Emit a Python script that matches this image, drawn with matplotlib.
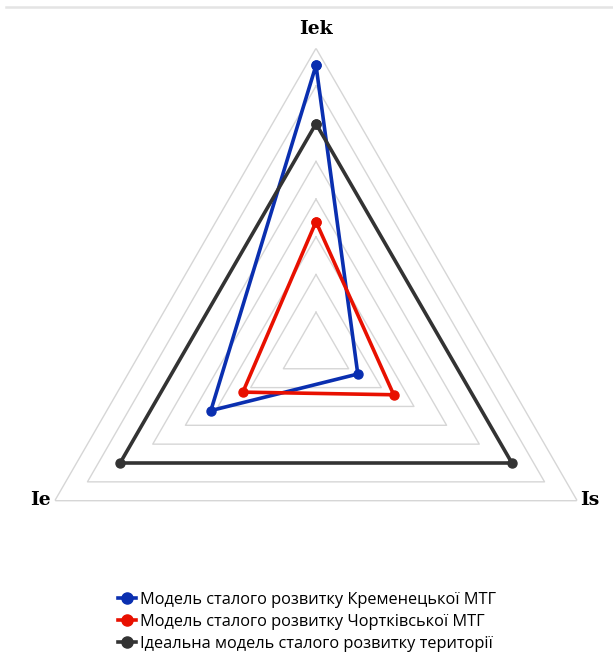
import numpy as np
import matplotlib
matplotlib.use("Agg")
import matplotlib.pyplot as plt
from matplotlib.lines import Line2D

# --- Indicator values (integral indices) ---
axes_labels = ["Iek", "Is", "Ie"]
kremenets = [0.755, 0.128, 0.322]
chortkiv = [0.340, 0.238, 0.224]
ideal = [0.60, 0.60, 0.60]

series_names = [
    "Модель сталого розвитку Кременецької МТГ",
    "Модель сталого розвитку Чортківської МТГ",
    "Ідеальна модель сталого розвитку території",
]
series_colors = ["#0a2fb0", "#e81000", "#333333"]
grid_levels = [0.1, 0.2, 0.3, 0.4, 0.5, 0.6, 0.7, 0.8]

W, H = 613, 653
fig = plt.figure(figsize=(W / 100, H / 100), dpi=100)

# polar axes centred on the triangle centre
cx, cy, R = 316, 349.9, 301.6
ax = fig.add_axes([(cx - R) / W, (H - cy - R) / H, 2 * R / W, 2 * R / H],
                  projection="polar")
ax.set_theta_offset(np.pi / 2)
ax.set_theta_direction(-1)
ax.set_ylim(0, 0.8)
ax.grid(False)
ax.spines["polar"].set_visible(False)
ax.set_xticks([])
ax.set_yticks([])
ax.patch.set_alpha(0)

theta = np.linspace(0, 2 * np.pi, len(axes_labels), endpoint=False)
theta_closed = np.append(theta, theta[0])

# triangular grid
for lvl in grid_levels:
    ax.plot(theta_closed, [lvl] * (len(theta) + 1), color="#d6d6d6", lw=1.0, zorder=1)

for vals, col in zip([kremenets, chortkiv, ideal], series_colors):
    v = np.append(vals, vals[0])
    ax.plot(theta_closed, v, color=col, lw=2.6, marker="o", ms=6.5,
            solid_joinstyle="round", zorder=3)

# axis titles
lab_font = dict(family="DejaVu Serif", weight="bold", fontsize=13.5)
fig.text(316 / W, 1 - 29 / H, axes_labels[0], ha="center", va="center", **lab_font)
fig.text(590 / W, 1 - 500 / H, axes_labels[1], ha="center", va="center", **lab_font)
fig.text(40 / W, 1 - 500 / H, axes_labels[2], ha="center", va="center", **lab_font)

# thin rule along the top edge
fig.add_artist(Line2D([6 / W, 1], [1 - 7 / H, 1 - 7 / H], color="#e4e4e4", lw=1.8))

handles = [Line2D([], [], color=c, lw=2.6, marker="o", ms=8) for c in series_colors]
fig.legend(handles, series_names, loc="center", bbox_to_anchor=(307 / W, 1 - 622 / H),
           frameon=False, handlelength=1.1, handletextpad=0.25, labelspacing=0.37,
           borderaxespad=0, borderpad=0,
           prop=dict(family="Open Sans", size=11.8))

fig.savefig("out.png", dpi=100)
